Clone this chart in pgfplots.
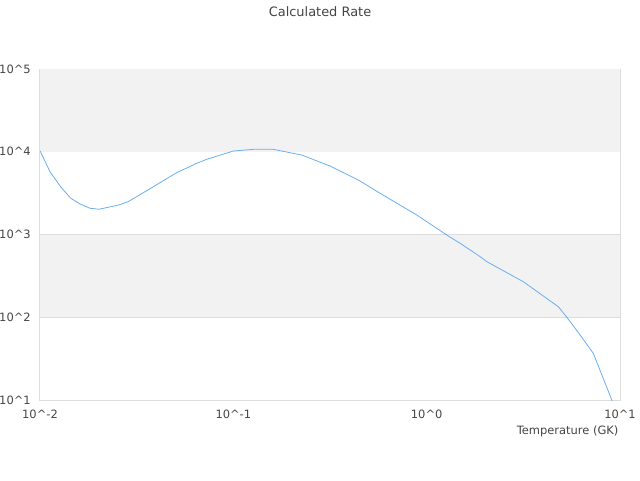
\documentclass[border=0pt]{standalone}
\usepackage{pgfplots}
\pgfplotsset{compat=1.18}
\usepackage{fontspec}
\setmainfont{DejaVu Sans}
\definecolor{txt}{HTML}{444444}
\definecolor{band}{HTML}{F2F2F2}
\definecolor{gridc}{HTML}{DDDDDD}
\definecolor{linec}{HTML}{6AAEF0}
\begin{document}
\begin{tikzpicture}
\useasboundingbox (0,0) rectangle (480pt,360pt);
\node[text=txt,font=\fontsize{9.7pt}{11pt}\selectfont, inner sep=0pt] at (240pt,351pt) {Calculated Rate};
\begin{axis}[
  at={(30pt,60pt)}, anchor=south west,
  scale only axis, width=435pt, height=248.25pt,
  xmode=log, ymode=log,
  xmin=0.01, xmax=10, ymin=10, ymax=100000,
  xtick={0.01,0.1,1,10},
  xticklabels={10\textasciicircum-2,10\textasciicircum-1,10\textasciicircum0,10\textasciicircum1},
  ytick={10,100,1000,10000,100000},
  yticklabels={10\textasciicircum1,10\textasciicircum2,10\textasciicircum3,10\textasciicircum4,10\textasciicircum5},
  minor tick num=0,
  xminorticks=false, yminorticks=false,
  major tick length=0pt,
  ymajorgrids, major grid style={gridc, line width=0.75pt},
  axis line style={gridc, line width=0.75pt},
  tick label style={text=txt, font=\fontsize{8.6pt}{10pt}\selectfont, inner sep=0pt},
  xticklabel style={anchor=north, yshift=-7.5pt},
  yticklabel style={anchor=east, xshift=-6.75pt},
  xlabel={Temperature (GK)},
  xlabel style={at={(rel axis cs:1,0)}, anchor=east, inner sep=0pt, xshift=-1pt, yshift=-23.25pt, text=txt, font=\fontsize{8.6pt}{10pt}\selectfont},
  clip=true,
]
\fill[band] (axis cs:0.01,10000) rectangle (axis cs:10,100000);
\fill[band] (axis cs:0.01,100) rectangle (axis cs:10,1000);
\addplot[linec, line width=0.6pt, mark=none] coordinates {
(0.01,10300) (0.01126,5740) (0.01285,3715) (0.01445,2735) (0.0161,2340)
(0.01815,2075) (0.0202,2020) (0.0256,2275) (0.0286,2495) (0.0356,3380)
(0.0509,5585) (0.0647,7245) (0.0728,8110) (0.1,10200) (0.127,10700)
(0.161,10700) (0.2255,9140) (0.316,6730) (0.443,4560) (0.574,3150)
(0.889,1720) (1.27,986) (1.49,783) (1.89,540) (2.05,469) (3.16,269)
(4.80,134) (5.31,100) (6.22,61) (7.28,36.6) (9.07,10) (10,5.5)
};
\end{axis}
\end{tikzpicture}
\end{document}
